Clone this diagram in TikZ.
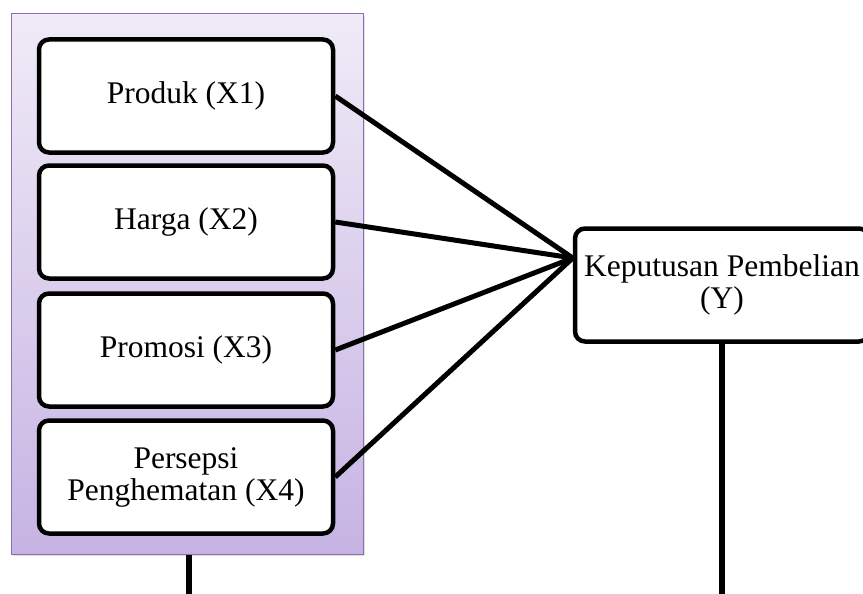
\documentclass[tikz,border=0pt]{standalone}
\usepackage{fontspec}
\setmainfont{Liberation Serif}
\usetikzlibrary{positioning, shadows}
\definecolor{lavtop}{HTML}{F0EBF7}
\definecolor{lavbot}{HTML}{C6B3E3}
\definecolor{lavedge}{HTML}{8A70B0}
\tikzset{
  every picture/.style={line width=4pt},
  varbox/.style={draw=black, line width=4.5pt, fill=white, rounded corners=10pt, align=center, inner sep=2pt,
    minimum width=294pt, minimum height=113pt, font=\fontsize{31.5}{32}\selectfont},
  group/.style={draw=lavedge, line width=1pt, top color=lavtop, bottom color=lavbot,
    minimum width=352pt, minimum height=540pt,
    drop shadow={opacity=0.25, shadow xshift=2pt, shadow yshift=-2pt}},
  link/.style={draw=black, line width=5pt},
}

\begin{document}
\begin{tikzpicture}[x=1pt, y=-1pt]
  \clip (0,0) rectangle (863,594);
  % independent variables
  \node[group] (grp) at (187,284) {};
  \node[varbox] (x1) at (186,96) {Produk (X1)};
  \node[varbox] (x2) at (186,222) {Harga (X2)};
  \node[varbox] (x3) at (186,350) {Promosi (X3)};
  \node[varbox] (x4) at (186,477) {Persepsi\\Penghematan (X4)};
  % dependent variable
  \node[varbox] (y) at (722,285) {Keputusan Pembelian\\(Y)};
  \coordinate (hub) at ([yshift=27pt]y.west);
  \foreach \v in {x1,x2,x3,x4} \draw[link] (\v.east) -- (hub);
  % lines down
  \coordinate (gEnd) at (189,600);
  \coordinate (yEnd) at (722,600);
  \draw[link, line width=6pt] (grp.south -| gEnd) -- (gEnd);
  \draw[link, line width=6pt] (y.south) -- (yEnd);
\end{tikzpicture}
\end{document}
